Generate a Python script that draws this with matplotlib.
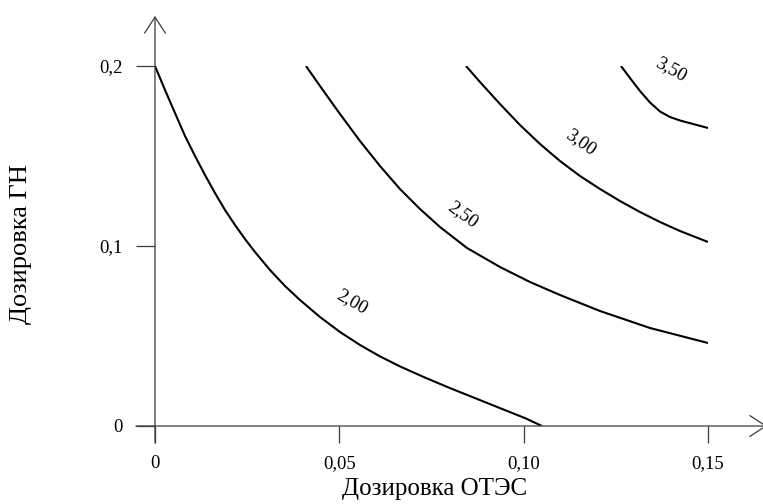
import matplotlib
matplotlib.use('Agg')
import matplotlib.pyplot as plt

plt.rcParams['font.family'] = ['Liberation Serif', 'DejaVu Serif']

# isolines (x = dose of OTES, y = dose of GN)
x_200 = [0.0, 0.00271, 0.00542, 0.00814, 0.01085, 0.01356, 0.01627, 0.01899, 0.02170, 0.02441,
         0.02712, 0.03119, 0.03526, 0.03933, 0.04475, 0.05018, 0.05560, 0.06103, 0.06645,
         0.07324, 0.08002, 0.08680, 0.09358, 0.10036, 0.10497]
y_200 = [0.2, 0.18667, 0.17389, 0.16111, 0.15, 0.13944, 0.12944, 0.12, 0.11167, 0.10389,
         0.09667, 0.08667, 0.07778, 0.07, 0.06056, 0.05222, 0.045, 0.03867, 0.03311,
         0.02689, 0.02106, 0.0155, 0.00994, 0.00439, 0.0]

x_250 = [0.04096, 0.04475, 0.05018, 0.05560, 0.06103, 0.06645, 0.07188, 0.07730, 0.08463,
         0.09358, 0.10172, 0.10985, 0.12070, 0.13427, 0.15]
y_250 = [0.2, 0.18889, 0.17333, 0.15833, 0.14444, 0.13167, 0.12056, 0.11056, 0.09889,
         0.08833, 0.08, 0.07278, 0.06389, 0.05444, 0.04611]

x_300 = [0.08436, 0.08815, 0.09358, 0.09900, 0.10443, 0.10985, 0.11528, 0.12070, 0.12613,
         0.13155, 0.13698, 0.14240, 0.15]
y_300 = [0.2, 0.19111, 0.17889, 0.16722, 0.15667, 0.14722, 0.13889, 0.13167, 0.125,
         0.11889, 0.11333, 0.10833, 0.10222]

x_350 = [0.12640, 0.12884, 0.13155, 0.13427, 0.13698, 0.13969, 0.14240, 0.14647, 0.15]
y_350 = [0.2, 0.19333, 0.18611, 0.17972, 0.17472, 0.17167, 0.16972, 0.1675, 0.16556]

levels = ['2,00', '2,50', '3,00', '3,50']
label_x = [0.0534, 0.0835, 0.1155, 0.1400]
label_y = [0.0689, 0.1172, 0.1578, 0.1980]
label_rot = [-30, -36, -35, -29]

xticks = [0, 0.05, 0.10, 0.15]
xtick_labels = ['0', '0,05', '0,10', '0,15']
yticks = [0, 0.1, 0.2]
ytick_labels = ['0', '0,1', '0,2']

fig = plt.figure(figsize=(7.63, 5.04), dpi=100)
ax = fig.add_axes([155 / 763, (504 - 426) / 504, 553 / 763, 360 / 504])
ax.set_xlim(0, 0.15)
ax.set_ylim(0, 0.2)
for s in ax.spines.values():
    s.set_visible(False)

axis_col = '#3c3c3c'

# axes drawn as arrows
ax.annotate('', xy=(0.1660, 0), xytext=(-0.0052, 0), xycoords='data',
            arrowprops=dict(arrowstyle='->,head_length=1.15,head_width=0.75',
                            color=axis_col, lw=0.9, shrinkA=0, shrinkB=0),
            annotation_clip=False)
ax.annotate('', xy=(0, 0.2278), xytext=(0, -0.0094), xycoords='data',
            arrowprops=dict(arrowstyle='->,head_length=1.15,head_width=0.75',
                            color=axis_col, lw=0.9, shrinkA=0, shrinkB=0),
            annotation_clip=False)

for xs, ys in [(x_200, y_200), (x_250, y_250), (x_300, y_300), (x_350, y_350)]:
    ax.plot(xs, ys, color='black', lw=1.5, solid_capstyle='butt', solid_joinstyle='round')

for t, x, y, r in zip(levels, label_x, label_y, label_rot):
    ax.text(x, y, t, rotation=r, ha='center', va='center', fontsize=13.5)

ax.set_xticks(xticks)
ax.set_xticklabels(xtick_labels)
ax.set_yticks(yticks)
ax.set_yticklabels(ytick_labels)
ax.tick_params(axis='x', direction='out', length=12.5, width=0.9, color=axis_col,
               pad=8.5, labelsize=13.5)
ax.tick_params(axis='y', direction='out', length=14, width=0.9, color=axis_col,
               pad=9.5, labelsize=13.5)

fig.text(435 / 763, 1 - 489 / 504, 'Дозировка ОТЭС', ha='center', va='center', fontsize=18)
fig.text(21 / 763, 1 - 244 / 504, 'Дозировка ГН', ha='center', va='center',
         rotation=90, fontsize=19)

fig.savefig('out.png', dpi=100)
